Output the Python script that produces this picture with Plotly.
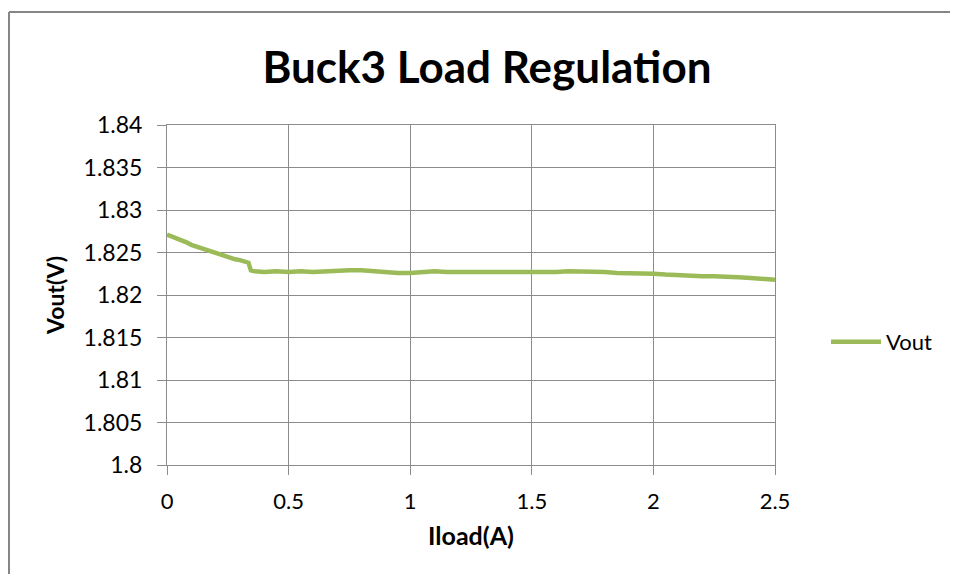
import plotly.graph_objects as go

iload = [0.00, 0.02, 0.04, 0.06, 0.08, 0.10, 0.12, 0.14, 0.16, 0.18,
         0.20, 0.22, 0.24, 0.26, 0.28, 0.30, 0.32, 0.335, 0.345, 0.36,
         0.40, 0.45, 0.50, 0.55, 0.60, 0.65, 0.70, 0.75, 0.80, 0.85,
         0.90, 0.95, 1.00, 1.05, 1.10, 1.15, 1.20, 1.25, 1.30, 1.35,
         1.40, 1.45, 1.50, 1.55, 1.60, 1.65, 1.70, 1.75, 1.80, 1.85,
         1.90, 1.95, 2.00, 2.05, 2.10, 2.15, 2.20, 2.25, 2.30, 2.35,
         2.40, 2.45, 2.50]
vout = [1.8271, 1.8269, 1.8267, 1.8264, 1.8262, 1.8259, 1.8257, 1.8255, 1.8254, 1.8252,
        1.8250, 1.8248, 1.8246, 1.8244, 1.8242, 1.8241, 1.8239, 1.8238, 1.8229, 1.8228,
        1.8227, 1.8228, 1.8227, 1.8228, 1.8227, 1.8228, 1.8228, 1.8229, 1.8229, 1.8228,
        1.8226, 1.8226, 1.8226, 1.8227, 1.8228, 1.8227, 1.8227, 1.8227, 1.8227, 1.8226,
        1.8227, 1.8227, 1.8227, 1.8227, 1.8227, 1.8228, 1.8228, 1.8228, 1.8227, 1.8226,
        1.8226, 1.8225, 1.8225, 1.8224, 1.8223, 1.8223, 1.8222, 1.8222, 1.8222, 1.8221,
        1.8220, 1.8219, 1.8218]

x_ticks = [0, 0.5, 1, 1.5, 2, 2.5]
x_tick_labels = ["0", "0.5", "1", "1.5", "2", "2.5"]
y_ticks = [1.8, 1.805, 1.81, 1.815, 1.82, 1.825, 1.83, 1.835, 1.84]
y_tick_labels = ["1.8", "1.805", "1.81", "1.815", "1.82", "1.825", "1.83", "1.835", "1.84"]

FONT = "Lato, 'Open Sans', sans-serif"
GRID = "#8c8c8c"

fig = go.Figure()
fig.add_trace(go.Scatter(
    x=iload, y=vout, mode="lines", name="Vout",
    line=dict(color="#9bbb59", width=4.5),
))

# figure is placed at page offset (8, 8) by the browser body margin
W, H = 942, 566
L, T = 159, 117
PW, PH = 608, 340
R, B = W - L - PW, H - T - PH
OX, OY = 167, 465  # page position of plot origin (left, bottom)


def px(page_x):
    return (page_x - OX) / PW


def py(page_y):
    return (OY - page_y) / PH


fig.update_layout(
    width=W, height=H,
    margin=dict(l=L, r=R, t=T, b=B),
    paper_bgcolor="white", plot_bgcolor="white",
    font=dict(family=FONT, color="#000000"),
    title=dict(text="<b>Buck3 Load Regulation</b>", x=px(487), xref="paper",
               xanchor="center", y=1 - (68 - 8) / H, yanchor="middle",
               font=dict(size=44, family=FONT, color="#000")),
    showlegend=True,
    legend=dict(x=px(826), y=py(342), xanchor="left", yanchor="middle",
                font=dict(size=22, family=FONT), itemwidth=50, bgcolor="rgba(0,0,0,0)"),
    xaxis=dict(range=[0, 2.5], tickvals=x_ticks, ticktext=x_tick_labels,
               showgrid=True, gridcolor=GRID, gridwidth=1,
               showline=True, linecolor=GRID, linewidth=1, mirror=True,
               ticks="outside", ticklen=9, tickcolor=GRID, ticklabelstandoff=8,
               tickfont=dict(size=22, family=FONT),
               zeroline=False,
               title=dict(text="<b>Iload(A)</b>", font=dict(size=25, family=FONT), standoff=14)),
    yaxis=dict(range=[1.8, 1.84], tickvals=y_ticks, ticktext=y_tick_labels,
               showgrid=True, gridcolor=GRID, gridwidth=1,
               showline=True, linecolor=GRID, linewidth=1, mirror=True,
               ticks="outside", ticklen=9, tickcolor=GRID, ticklabelstandoff=10,
               tickfont=dict(size=23, family=FONT),
               zeroline=False,
               title=dict(text="<b>Vout(V)</b>", font=dict(size=23, family=FONT), standoff=12)),
)

# outer chart frame: only its left and top edges are inside the picture
frame = dict(color="#868686", width=2)
fig.add_shape(type="line", xref="paper", yref="paper",
              x0=px(9), x1=px(9), y0=py(12), y1=py(8 + H), line=frame, layer="below")
fig.add_shape(type="line", xref="paper", yref="paper",
              x0=px(9), x1=px(8 + W), y0=py(12), y1=py(12), line=frame, layer="below")

fig.write_html("out.html")
